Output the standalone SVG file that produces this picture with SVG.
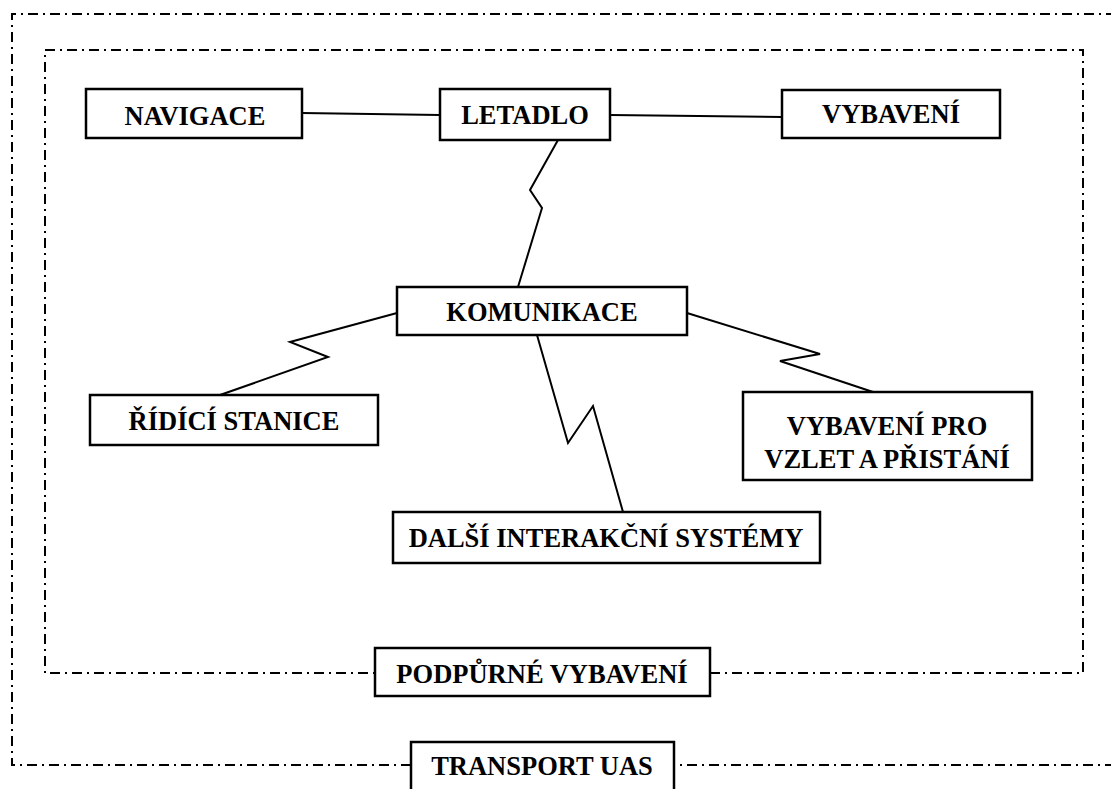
<svg xmlns="http://www.w3.org/2000/svg" width="1111" height="789" viewBox="0 0 1111 789">
<style>
.frame{fill:none;stroke:#000;stroke-width:2;stroke-dasharray:10 5 2 5}
.box{fill:#fff;stroke:#000;stroke-width:2.5}
.conn{fill:none;stroke:#000;stroke-width:2;stroke-linejoin:miter}
.t{font-family:"Liberation Serif","Times New Roman",serif;font-weight:bold;font-size:26.5px;fill:#000;text-anchor:middle}
</style>
<rect width="1111" height="789" fill="#fff"/>
<g id="frames">
<path class="frame" d="M1116,14 H12 V765 H1116"/>
<rect class="frame" x="45" y="50" width="1038" height="623"/>
</g>
<g id="connectors">
<polyline class="conn" points="302,113 440,115"/>
<polyline class="conn" points="610,115 782,117"/>
<polyline class="conn" points="558,140 530,190 542,208 518,287"/>
<polyline class="conn" points="397,313 290,342 328,357 220,395"/>
<polyline class="conn" points="537,335 568,443 593,406 623,512"/>
<polyline class="conn" points="687,313 820,354 780,361 873,392"/>
</g>
<g id="navigace"><rect class="box" x="86" y="89" width="216" height="49"/><text class="t" x="195" y="125">NAVIGACE</text></g>
<g id="letadlo"><rect class="box" x="440" y="89" width="170" height="51"/><text class="t" x="525" y="124">LETADLO</text></g>
<g id="vybaveni"><rect class="box" x="782" y="90" width="218" height="48"/><text class="t" x="891" y="123">VYBAVENÍ</text></g>
<g id="komunikace"><rect class="box" x="397" y="287" width="290" height="48"/><text class="t" x="542" y="321">KOMUNIKACE</text></g>
<g id="ridici-stanice"><rect class="box" x="90" y="395" width="288" height="50"/><text class="t" x="234" y="430">ŘÍDÍCÍ STANICE</text></g>
<g id="vzlet-pristani"><rect class="box" x="743" y="392" width="289" height="88"/><text class="t" x="887" y="435">VYBAVENÍ PRO</text><text class="t" x="887" y="468">VZLET A PŘISTÁNÍ</text></g>
<g id="dalsi-systemy"><rect class="box" x="393" y="512" width="427" height="51"/><text class="t" x="606" y="547">DALŠÍ INTERAKČNÍ SYSTÉMY</text></g>
<g id="podpurne"><rect class="box" x="375" y="648" width="335" height="48"/><text class="t" x="542" y="683">PODPŮRNÉ VYBAVENÍ</text></g>
<g id="transport"><rect class="box" x="411" y="742" width="263" height="60"/><text class="t" x="542" y="775">TRANSPORT UAS</text></g>
</svg>
